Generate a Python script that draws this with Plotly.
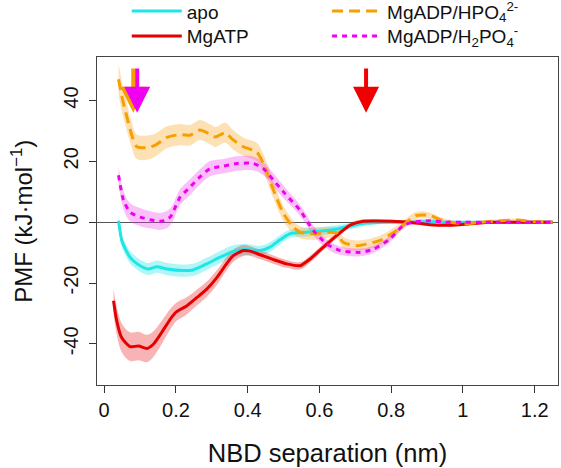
import plotly.graph_objects as go

# ---------------- data ----------------
apo_x = [0.04, 0.049, 0.06, 0.072, 0.085, 0.1, 0.123, 0.147, 0.175, 0.221, 0.25, 0.286, 0.323,
         0.36, 0.397, 0.435, 0.462, 0.49, 0.518, 0.565, 0.62, 0.65, 0.685, 0.73, 0.78, 0.85, 0.9,
         0.95, 1.0, 1.05, 1.1, 1.15, 1.2, 1.25]
apo_y = [0.5, -6.0, -9.0, -11.5, -13.0, -14.3, -15.4, -14.6, -15.4, -15.9, -15.6, -13.7, -11.5,
         -9.6, -9.0, -9.3, -8.2, -5.8, -3.8, -3.3, -2.7, -2.2, -1.3, -0.3, 0.0, 0.0, 0.2,
         0.0, 0.0, 0.0, 0.0, 0.0, 0.0, 0.0]
apo_err = [2.0, 2.0, 2.0, 2.0, 2.0, 2.0, 2.0, 2.0, 2.0, 2.0, 2.0, 2.0, 2.0,
           2.0, 1.8, 1.6, 1.6, 1.5, 1.4, 1.4, 1.3, 1.2, 1.0, 0.8, 0.6, 0.5, 0.5,
           0.4, 0.4, 0.3, 0.3, 0.3, 0.3, 0.3]

atp_x = [0.026, 0.035, 0.049, 0.072, 0.096, 0.119, 0.137, 0.16, 0.184, 0.202, 0.23, 0.258,
         0.286, 0.314, 0.341, 0.36, 0.388, 0.407, 0.435, 0.472, 0.509, 0.546, 0.574, 0.611,
         0.648, 0.685, 0.722, 0.76, 0.8, 0.85, 0.908, 0.964, 1.02, 1.08, 1.15, 1.2, 1.25]
atp_y = [-25.8, -32.4, -38.0, -40.9, -40.7, -41.5, -40.1, -36.3, -31.9, -29.4, -27.5, -24.8,
         -22.0, -18.2, -13.7, -11.0, -9.3, -9.5, -10.7, -12.3, -13.7, -14.3, -12.1, -8.2,
         -4.4, -1.0, 0.3, 0.4, 0.3, 0.0, -0.8, -1.0, -0.5, 0.0, 0.0, 0.0, 0.0]
atp_err = [4.0, 4.5, 4.7, 4.7, 4.7, 4.5, 4.2, 3.8, 3.4, 3.0, 2.8, 2.6,
           2.5, 2.4, 2.2, 2.0, 1.8, 1.6, 1.5, 1.4, 1.3, 1.2, 1.1, 1.0,
           0.9, 0.8, 0.7, 0.6, 0.5, 0.5, 0.5, 0.4, 0.4, 0.3, 0.3, 0.3, 0.3]

hpo_x = [0.04, 0.05, 0.063, 0.077, 0.091, 0.119, 0.142, 0.175, 0.212, 0.24, 0.267, 0.295,
         0.31, 0.337, 0.36, 0.388, 0.425, 0.444, 0.472, 0.5, 0.527, 0.546, 0.583, 0.63, 0.648,
         0.666, 0.704, 0.769, 0.815, 0.87, 0.908, 0.945, 1.0, 1.05, 1.094, 1.15, 1.2, 1.25]
hpo_y = [47.0, 41.0, 34.7, 28.6, 24.8, 24.5, 25.3, 27.9, 28.8, 28.6, 30.3, 28.9,
         28.0, 29.4, 27.0, 24.8, 23.1, 19.3, 10.5, 2.8, -1.6, -3.3, -3.8, -3.3, -3.5,
         -6.6, -7.7, -6.0, -2.7, 2.2, 2.2, 0.5, -0.5, 0.0, 0.4, 0.7, 0.2, 0.0]
hpo_err = [5.0, 5.0, 4.5, 4.2, 4.0, 4.0, 3.8, 3.6, 3.5, 3.4, 3.3, 3.3,
           3.3, 3.3, 3.2, 3.0, 3.0, 3.0, 2.8, 2.5, 2.2, 2.0, 2.0, 1.8, 1.8,
           1.8, 1.7, 1.6, 1.5, 1.2, 1.0, 0.8, 0.6, 0.5, 0.5, 0.5, 0.4, 0.4]

h2po_x = [0.04, 0.054, 0.072, 0.1, 0.128, 0.16, 0.184, 0.212, 0.24, 0.267, 0.295, 0.332,
          0.37, 0.416, 0.444, 0.472, 0.504, 0.546, 0.583, 0.62, 0.657, 0.713, 0.75, 0.797,
          0.833, 0.86, 0.91, 0.95, 1.0, 1.05, 1.1, 1.15, 1.2, 1.25]
h2po_y = [15.4, 7.2, 3.3, 1.7, 0.8, 0.3, 1.7, 8.3, 11.6, 14.9, 17.6, 18.4,
          19.3, 19.3, 17.6, 13.8, 9.4, 3.9, -2.7, -7.1, -9.3, -9.9, -8.9, -5.5,
          -1.1, 0.0, 0.5, 0.0, 0.0, 0.0, 0.0, 0.0, 0.0, 0.0]
h2po_err = [3.0, 3.0, 3.0, 3.0, 2.8, 2.8, 2.8, 2.6, 2.6, 2.5, 2.5, 2.4,
            2.4, 2.3, 2.2, 2.2, 2.0, 1.8, 1.6, 1.5, 1.4, 1.3, 1.2, 1.0,
            0.8, 0.7, 0.6, 0.5, 0.4, 0.4, 0.3, 0.3, 0.3, 0.3]

arrow_x = [0.081, 0.092, 0.73]
arrow_from = [51.0, 51.0, 51.0]
arrow_to = [36.0, 36.0, 36.0]

x_ticks = [0, 0.2, 0.4, 0.6, 0.8, 1.0, 1.2]
x_ticktext = ["0", "0.2", "0.4", "0.6", "0.8", "1", "1.2"]
y_ticks = [-40, -20, 0, 20, 40]
y_ticktext = ["-40", "-20", "0", "20", "40"]

# ---------------- figure ----------------
series = [
    dict(name="apo", x=apo_x, y=apo_y, e=apo_err, color="#1EE6E6",
         band="rgba(30,230,230,0.35)", dash="solid", legend="legend"),
    dict(name="MgATP", x=atp_x, y=atp_y, e=atp_err, color="#E60000",
         band="rgba(235,40,40,0.35)", dash="solid", legend="legend2"),
    dict(name="MgADP/HPO<sub>4</sub><sup>2-</sup>", x=hpo_x, y=hpo_y, e=hpo_err,
         color="#F5A000", band="rgba(250,175,60,0.38)", dash="11px,6px", legend="legend3"),
    dict(name="MgADP/H<sub>2</sub>PO<sub>4</sub><sup>-</sup>", x=h2po_x, y=h2po_y, e=h2po_err,
         color="#F000F0", band="rgba(240,60,240,0.32)", dash="5px,5px", legend="legend4"),
]

fig = go.Figure()

for s in series:
    upper = [v + e for v, e in zip(s["y"], s["e"])]
    lower = [v - e for v, e in zip(s["y"], s["e"])]
    fig.add_trace(go.Scatter(
        x=s["x"] + s["x"][::-1], y=upper + lower[::-1],
        fill="toself", fillcolor=s["band"], line=dict(width=0),
        mode="lines", line_shape="spline", hoverinfo="skip", showlegend=False))

for s in series:
    fig.add_trace(go.Scatter(
        x=s["x"], y=s["y"], name=s["name"], mode="lines",
        line=dict(color=s["color"], width=3, dash=s["dash"], shape="spline", smoothing=0.6),
        legend=s["legend"]))

arrow_colors = ["#F5A000", "#F000F0", "#F00000"]
for ax_, y0, y1, c in zip(arrow_x, arrow_from, arrow_to, arrow_colors):
    fig.add_annotation(x=ax_, y=y1, ax=ax_, ay=y0, xref="x", yref="y", axref="x", ayref="y",
                       showarrow=True, arrowhead=2, arrowsize=1.3, arrowwidth=4,
                       arrowcolor=c, text="")

# y-axis title as a rotated text label
fig.add_annotation(text="PMF (kJ·mol<sup>−1</sup>)", xref="paper", yref="paper",
                   x=-0.163, y=0.5, xanchor="center", yanchor="middle",
                   textangle=-90, showarrow=False, font=dict(size=24))

font_family = "Liberation Sans, Arial, Helvetica, sans-serif"


def leg(x, y):
    return dict(xref="container", yref="container", x=x, y=y,
                xanchor="left", yanchor="middle", bgcolor="rgba(0,0,0,0)",
                font=dict(size=19), itemwidth=50)


fig.update_layout(
    width=561, height=468,
    margin=dict(l=97, r=3, t=57, b=83, autoexpand=False),
    paper_bgcolor="white", plot_bgcolor="white",
    font=dict(family=font_family, color="#111", size=20),
    legend=leg(0.226, 0.976),
    legend2=leg(0.226, 0.923),
    legend3=leg(0.583, 0.976),
    legend4=leg(0.583, 0.923),
    xaxis=dict(range=[-0.02, 1.265], tickvals=x_ticks, ticktext=x_ticktext,
               ticks="outside", ticklen=7, tickcolor="#333", showline=True,
               linecolor="#444", linewidth=1, mirror=True, showgrid=False, zeroline=False,
               tickfont=dict(size=20), tickangle=0, automargin=True,
               title=dict(text="NBD separation (nm)", font=dict(size=25.5), standoff=24)),
    yaxis=dict(range=[-53.5, 54.3], tickvals=y_ticks, ticktext=y_ticktext, tickangle=-90,
               ticks="outside", ticklen=7, tickcolor="#333", showline=True,
               linecolor="#444", linewidth=1, mirror=True, showgrid=False,
               zeroline=True, zerolinecolor="#555", zerolinewidth=1,
               tickfont=dict(size=20), automargin=True, ticklabelstandoff=3),
)

# remove the default page margin so the figure fills the window exactly
fig.write_html("out.html", config={"displayModeBar": False},
               post_script="document.body.style.margin='0';")
